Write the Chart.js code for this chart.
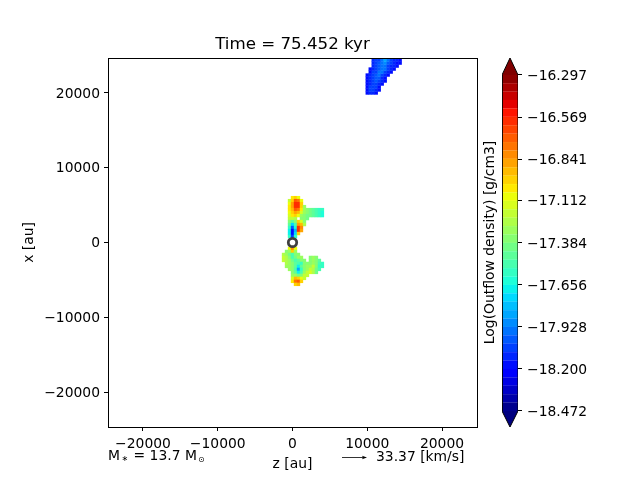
<!DOCTYPE html>
<html><head><meta charset="utf-8">
<script src="https://cdn.jsdelivr.net/npm/chart.js@4/dist/chart.umd.min.js"></script>
<style>html,body{margin:0;padding:0;background:#fff;width:640px;height:480px;overflow:hidden}
#m{position:absolute;left:0;top:0}#c{position:absolute;left:474px;top:0}</style>
</head><body>
<canvas id="m" width="640" height="480"></canvas>
<canvas id="c" width="166" height="480"></canvas>
<script>
const axisTicks = [-20000,-10000,0,10000,20000];
const axisLimit = 24680;
const colorTicks = [-16.297,-16.569,-16.841,-17.112,-17.384,-17.656,-17.928,-18.200,-18.472];
const levels = [-18.472,-18.418,-18.363,-18.309,-18.254,-18.200,-18.146,-18.091,-18.037,-17.982,-17.928,-17.874,-17.819,-17.765,-17.710,-17.656,-17.602,-17.547,-17.493,-17.438,-17.384,-17.330,-17.275,-17.221,-17.166,-17.112,-17.058,-17.003,-16.949,-16.894,-16.840,-16.786,-16.731,-16.677,-16.622,-16.568,-16.514,-16.459,-16.405,-16.350,-16.297];
const cellSize = 400;
const rowX = [6000,5600,5200,4800,4400,4000,3600,3200,2800,2400,2000,1600,1200,800,
 -800,-1200,-1600,-2000,-2000,-2400,-2400,-2800,-2800,-3200,-3200,-3600,-4000,-4400,-4800,-5200,-5600,
 20000,20400,20800,21200,21600,22000,22400,22800,23200,23600,24000,24400];
const rowZ0 = [0,-400,-400,-400,-400,-400,-400,-400,-400,-400,-400,-400,-400,-400,
 -400,-800,-1200,-1200,2400,-1200,2400,-800,2000,-800,2000,-400,0,0,0,0,400,
 10000,10000,10000,10000,10000,10000,10000,10400,10400,10800,10800,10800];
const rowValues = [
 [-17.05,-16.95,-17.1],
 [-17.2,-16.95,-16.7,-16.75,-17.1],
 [-17.1,-16.85,-16.62,-16.58,-16.95],
 [-17.05,-16.85,-16.62,-16.62,-16.95,-17.3],
 [-17.05,-16.9,-16.72,-16.75,-17.05,-17.3,-17.35,-17.42,-17.45,-17.5,-17.55,-17.6],
 [-17.1,-17.0,-16.88,-16.92,-17.15,-17.32,-17.38,-17.42,-17.45,-17.5,-17.58,-17.62],
 [-17.15,-17.05,-17.0,-17.1,-17.3,-17.38,-17.4,-17.42,-17.45,-17.5,-17.6,-17.65],
 [-17.2,-17.2,-17.25,null,-17.35,-17.35,-17.4],
 [-17.35,-17.45,-17.35,-17.0,-17.15,-17.35],
 [-17.45,-17.75,-17.5,-16.85,-16.9,-17.25],
 [-17.6,-18.0,-17.65,-16.62,-16.8],
 [-17.7,-18.15,-17.8,-16.62,-16.88],
 [-17.7,-18.2,-17.75,-17.0],
 [-17.6,-18.05,-17.6],
 [-17.1,-16.8,-17.1],
 [-17.35,-17.3,-17.0,-17.3],
 [-17.25,-17.3,-17.4,-17.5,-17.35,-17.35],
 [-17.2,-17.25,-17.35,-17.5,-17.4,-17.3,-17.3],
 [-17.35,-17.3,-17.35],
 [-17.2,-17.25,-17.3,-17.4,-17.5,-17.45,-17.35,-17.35],
 [-17.35,-17.3,-17.35,-17.45],
 [-17.25,-17.3,-17.35,-17.45,-17.5,-17.6,-17.35],
 [-17.35,-17.35,-17.3,-17.35,-17.5,-17.6],
 [-17.3,-17.3,-17.35,-17.45,-17.7,-17.45,-17.35],
 [-17.3,-17.3,-17.2,-17.35,-17.55,-17.6],
 [-17.3,-17.35,-17.5,-17.85,-17.55,-17.35,-17.3,-17.2,-17.25,-17.4,-17.5],
 [-17.35,-17.45,-17.7,-17.5,-17.3,-17.2,-17.15,-17.25,-17.4],
 [-17.3,-17.3,-17.4,-17.35,-17.2,-17.2],
 [-17.15,-16.9,-17.0,-17.1,-17.2],
 [-17.05,-16.75,-16.7,-17.0],
 [-16.95,-16.9],
 [-18.15,-18.12,-18.12,-18.15],
 [-18.15,-18.08,-18.08,-18.12,-18.15],
 [-18.15,-18.08,-18.05,-18.08,-18.15],
 [-18.15,-18.12,-18.05,-18.05,-18.12,-18.15],
 [-18.15,-18.12,-18.05,-18.0,-18.08,-18.12,-18.15],
 [-18.15,-18.12,-18.08,-18.0,-18.0,-18.12,-18.15],
 [-18.15,-18.12,-18.08,-18.0,-17.95,-18.08,-18.12,-18.15],
 [-18.15,-18.08,-18.05,-17.95,-17.95,-18.05,-18.12,-18.15],
 [-18.15,-18.12,-18.05,-18.0,-17.95,-17.95,-18.08,-18.12,-18.15],
 [-18.12,-18.08,-18.0,-17.95,-17.95,-18.05,-18.12,-18.12,-18.15],
 [-18.12,-18.08,-18.0,-17.95,-17.9,-18.0,-18.08,-18.12,-18.15,-18.15],
 [-18.12,-18.08,-18.05,-17.95,-17.85,-17.95,-18.08,-18.12,-18.12,-18.15]
];
const starZ = [0];
const starX = [0];
const titleText = 'Time = 75.452 kyr';
const xLabel = 'z [au]';
const yLabel = 'x [au]';
const colorLabel = 'Log(Outflow density) [g/cm3]';
const velocityText = '33.37 [km/s]';

const FONT = 'DejaVu Sans';
const TICK = 13.89;
function jet(t){
  const p=(xs,ys)=>{ if(t<=xs[0])return ys[0]; for(let i=1;i<xs.length;i++) if(t<=xs[i]) return ys[i-1]+(ys[i]-ys[i-1])*(t-xs[i-1])/(xs[i]-xs[i-1]); return ys[ys.length-1]; };
  const r=p([0,.35,.66,.89,1],[0,0,1,1,.5]);
  const g=p([0,.125,.375,.64,.91,1],[0,0,1,1,0,0]);
  const b=p([0,.11,.34,.65,1],[.5,1,1,0,0]);
  return `rgb(${Math.round(r*255)},${Math.round(g*255)},${Math.round(b*255)})`;
}
const bandCount = levels.length-1;
const bandColor = i => jet((i+0.5)/bandCount);
function valueColor(v){
  let i=0; while(i<bandCount-1 && v>=levels[i+1]) i++;
  return bandColor(i);
}
const cells=[];
rowX.forEach((x,r)=>rowValues[r].forEach((v,i)=>{ if(v!==null) cells.push({x:rowZ0[r]+i*cellSize,y:x,v}); }));
const minus = s => String(s).replace('-','\u2212');

const nudgeY = {id:'nudgeY',beforeDraw(ch){
  for(const ax of Object.values(ch.scales)){
    if(ax.axis!=='y'||!ax.options.ticks.display) continue;
    for(const it of ax.getLabelItems()){ if(!it.nudged){ it.options.translation[1]+=1; it.nudged=true; } }
  }}};
const frame = {id:'frame',afterDatasetsDraw(ch){const {ctx,chartArea:a}=ch;ctx.save();ctx.strokeStyle='#000';ctx.lineWidth=1;
  ctx.strokeRect(Math.round(a.left)+.5,Math.round(a.top)+.5,Math.round(a.width),Math.round(a.height));ctx.restore();}};
const notes = {id:'notes',afterDraw(ch){const ctx=ch.ctx;ctx.save();ctx.fillStyle='#000';ctx.strokeStyle='#000';ctx.textBaseline='alphabetic';ctx.textAlign='left';
  const f=`${TICK}px "${FONT}"`, s=`8px "${FONT}"`;let x=108;const y=460;
  const put=(t,font,dy)=>{ctx.font=font;ctx.fillText(t,x,y+dy);x+=ctx.measureText(t).width;};
  put('M',f,0);x+=1.5;put('\u2217',s,1);x+=1;put(' = 13.7 M',f,0);x+=1;put('\u2299',s,2);
  ctx.font=f;ctx.fillText(velocityText,376,461);
  ctx.lineWidth=0.8;ctx.beginPath();ctx.moveTo(342,457.5);ctx.lineTo(364,457.5);ctx.stroke();
  ctx.beginPath();ctx.moveTo(367,457.5);ctx.lineTo(362,455.8);ctx.lineTo(363,457.5);ctx.lineTo(362,459.2);ctx.closePath();ctx.fill();
  ctx.restore();}};
const axisCommon = {
  type:'linear',min:-axisLimit,max:axisLimit,
  afterBuildTicks(ax){ax.ticks=axisTicks.map(v=>({value:v}));},
  grid:{drawOnChartArea:false,drawTicks:true,tickLength:4,tickColor:'#000',tickWidth:1},
  border:{color:'#000',width:1}
};
new Chart(document.getElementById('m'),{
  type:'scatter',
  data:{datasets:[
    {label:'star',data:starZ.map((z,i)=>({x:z,y:starX[i]})),pointStyle:'circle',pointRadius:4.2,pointBackgroundColor:'rgba(255,255,255,0.6)',pointBorderColor:'#404040',pointBorderWidth:2.8,order:0},
    {label:'Outflow density',data:cells,pointStyle:'rect',pointRadius:2.4,pointBorderWidth:0,order:1,
     pointBackgroundColor:c=>c.raw?valueColor(c.raw.v):'#000'}
  ]},
  options:{
    responsive:false,animation:false,devicePixelRatio:1,
    layout:{padding:{left:21,right:163,top:0,bottom:7}},
    plugins:{legend:{display:false},tooltip:{enabled:false},
      title:{display:true,fullSize:false,text:titleText,color:'#000',font:{family:FONT,size:16.67,weight:'normal'},padding:{top:35,bottom:3}}},
    scales:{
      x:{...axisCommon,position:'bottom',afterFit(ax){ax.height=46;},
        ticks:{color:'#000',font:{family:FONT,size:TICK},padding:5,maxRotation:0,autoSkip:false,callback:v=>minus(v)},
        title:{display:true,text:xLabel,color:'#000',font:{family:FONT,size:TICK},padding:{top:0,bottom:0}}},
      y:{...axisCommon,position:'left',afterFit(ax){ax.width=87;},
        ticks:{color:'#000',font:{family:FONT,size:TICK},padding:4,autoSkip:false,callback:v=>minus(v)},
        title:{display:true,text:yLabel,color:'#000',font:{family:FONT,size:TICK},padding:{top:0,bottom:0}}}
    }
  },
  plugins:[nudgeY,frame,notes]
});

const bandSets = [];
for(let i=0;i<bandCount;i++){
  bandSets.push({data:[{x:0,y:levels[i+1]},{x:1,y:levels[i+1]}],fill:{value:levels[i]},
    backgroundColor:bandColor(i),borderColor:bandColor(i),borderWidth:0.3,pointRadius:0,yAxisID:'y'});
}
const tipTop = levels[bandCount]+0.11, tipBottom = levels[0]-0.1036;
const outline = {data:[{x:0,y:levels[0]},{x:0.5,y:tipBottom},{x:1,y:levels[0]},{x:1,y:levels[bandCount]},{x:0.5,y:tipTop},{x:0,y:levels[bandCount]},{x:0,y:levels[0]}],
  fill:false,borderColor:'#000',borderWidth:1,pointRadius:0,tension:0,yAxisID:'y',order:-1};
const overTip = {data:[{x:0,y:levels[bandCount]},{x:0.5,y:tipTop},{x:1,y:levels[bandCount]}],fill:{value:levels[bandCount]},backgroundColor:jet(1),borderWidth:0,pointRadius:0,yAxisID:'y'};
const underTip = {data:[{x:0,y:levels[0]},{x:0.5,y:tipBottom},{x:1,y:levels[0]}],fill:{value:levels[0]},backgroundColor:jet(0),borderWidth:0,pointRadius:0,yAxisID:'y'};
new Chart(document.getElementById('c'),{
  type:'line',
  data:{datasets:[outline,overTip,underTip,...bandSets]},
  options:{
    responsive:false,animation:false,devicePixelRatio:1,
    layout:{padding:{top:58,bottom:53,left:0,right:0}},
    plugins:{legend:{display:false},tooltip:{enabled:false},title:{display:false}},
    scales:{
      x:{type:'linear',min:0,max:1,display:false},
      y:{type:'linear',position:'right',min:tipBottom,max:tipTop,afterFit(ax){ax.width=122;},
        afterBuildTicks(ax){ax.ticks=colorTicks.map(v=>({value:v}));},
        grid:{drawOnChartArea:false,tickLength:4,tickColor:'#000',tickWidth:1},border:{display:false},
        ticks:{color:'#000',font:{family:FONT,size:TICK},padding:5,autoSkip:false,callback:v=>minus(v.toFixed(3))}},
      lbl:{type:'linear',position:'left',min:0,max:1,afterFit(ax){ax.width=28;},
        grid:{display:false},border:{display:false},ticks:{display:false},
        title:{display:true,text:colorLabel,color:'#000',font:{family:FONT,size:TICK},padding:{top:8,bottom:0}}}
    }
  },
  plugins:[nudgeY]
});
</script>
</body></html>
